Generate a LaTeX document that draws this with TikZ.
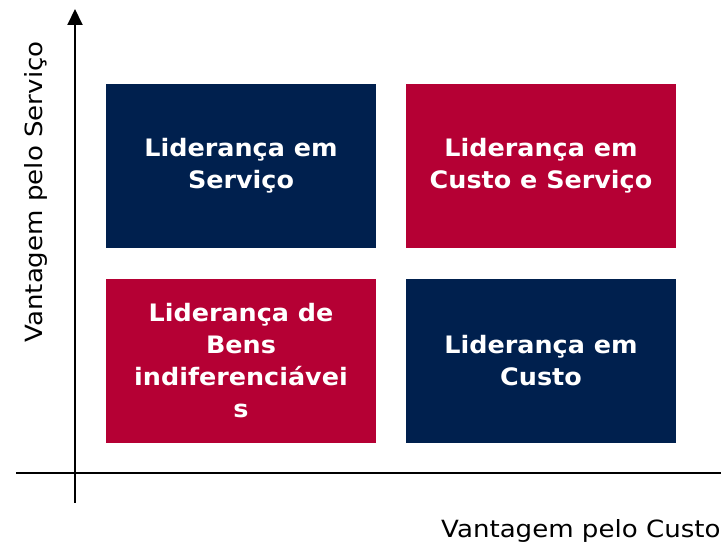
\documentclass[tikz,border=0pt]{standalone}
\usepackage{fontspec}
\setmainfont{DejaVu Sans}[FakeStretch=1.06]
\newfontfamily\labelfont{DejaVu Sans}[FakeStretch=1.1]
\usetikzlibrary{arrows.meta}
\definecolor{navy}{RGB}{0,32,78}
\definecolor{crimson}{RGB}{181,0,52}
\tikzset{
  quad/.style={minimum width=270pt, minimum height=164pt, inner sep=0pt, align=center,
    text=white, font=\fontsize{24}{32}\selectfont\bfseries},
  axis/.style={line width=2pt, -{Triangle[length=16pt,width=15pt]}},
  axislabel/.style={font=\labelfont\fontsize{23.7}{28}\selectfont, inner sep=0pt}
}
\begin{document}
\begin{tikzpicture}[x=1pt,y=-1pt]
            \useasboundingbox (0,0) rectangle (721,545);
            \node[quad, fill=navy] (servico) at (241,166) {Liderança em\\Serviço};
            \node[quad, fill=crimson] (custoservico) at (541,166) {Liderança em\\Custo e Serviço};
            \node[quad, fill=crimson] (bens) at (241,361) {Liderança de\\Bens\\indiferenciávei\\s};
            \node[quad, fill=navy] (custo) at (541,361) {Liderança em\\Custo};

            \coordinate (ybottom) at (75,503);
            \coordinate (ytop) at (75,9);
            \coordinate (xleft) at (16,473);
            \coordinate (xright) at (737,473);
            \draw[axis] (ybottom) -- (ytop);
            \draw[axis] (xleft) -- (xright);

            \node[axislabel, rotate=90, anchor=base] (ylabel) at (42,192) {Vantagem pelo Serviço};
            \node[axislabel, anchor=base west] (xlabel) at (441,537) {Vantagem pelo Custo};
        \end{tikzpicture}
\end{document}
